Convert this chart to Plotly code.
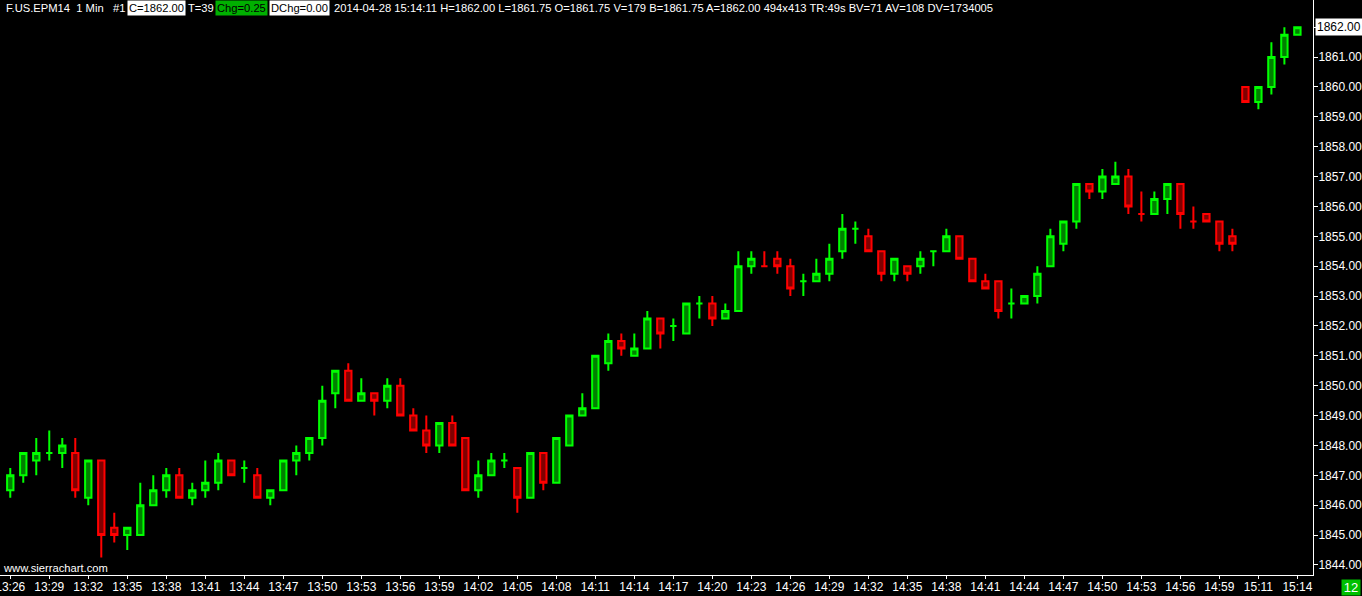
import plotly.graph_objects as go

# one-minute bars, F.US.EPM14, 2014-04-28
opens = [
    1846.5, 1847, 1847.5, 1847.75, 1847.75, 1847.75, 1846.25, 1847.5, 1845.25, 1845,
    1845, 1846, 1846.5, 1847, 1846.25, 1846.5, 1846.75, 1847.5, 1847.25, 1847,
    1846.25, 1846.5, 1847.5, 1847.75, 1848.25, 1849.75, 1850.5, 1849.5, 1849.75, 1849.5,
    1850, 1849, 1848.5, 1848, 1848.75, 1848.25, 1846.5, 1847, 1847.5, 1847.25,
    1846.25, 1847.75, 1846.75, 1848, 1849, 1849.25, 1850.75, 1851.5, 1851, 1851.25,
    1852.25, 1852, 1851.75, 1852.75, 1852.75, 1852.25, 1852.5, 1854, 1854, 1854.25,
    1854, 1853.5, 1853.5, 1853.75, 1854.5, 1855.25, 1855, 1854.5, 1853.75, 1854,
    1854, 1854.5, 1854.5, 1855, 1854.25, 1853.5, 1853.5, 1852.75, 1852.75, 1853,
    1854, 1854.75, 1855.5, 1856.75, 1856.5, 1856.75, 1857, 1855.75, 1855.75, 1856.25,
    1856.75, 1855.5, 1855.75, 1855.5, 1855, 1860, 1859.5, 1860, 1861, 1861.75,
]
highs = [
    1847.25, 1847.75, 1848.25, 1848.5, 1848.25, 1848.25, 1847.5, 1847.5, 1845.75, 1845.25,
    1846.75, 1847, 1847.25, 1847.25, 1846.75, 1847.5, 1847.75, 1847.5, 1847.5, 1847.25,
    1846.5, 1847.5, 1848, 1848.25, 1850, 1850.5, 1850.75, 1850.25, 1849.75, 1850.25,
    1850.25, 1849.25, 1849, 1848.75, 1849, 1848.25, 1847.5, 1847.75, 1847.75, 1847.25,
    1847.75, 1847.75, 1848.25, 1849, 1849.75, 1851, 1851.75, 1851.75, 1851.75, 1852.5,
    1852.25, 1852.25, 1852.75, 1853, 1853, 1852.75, 1854.5, 1854.5, 1854.5, 1854.5,
    1854.25, 1853.75, 1854.25, 1854.75, 1855.75, 1855.5, 1855.25, 1854.5, 1854.25, 1854,
    1854.5, 1854.5, 1855.25, 1855, 1854.25, 1853.75, 1853.5, 1853.25, 1853, 1854,
    1855.25, 1855.5, 1856.75, 1856.75, 1857.25, 1857.5, 1857.25, 1856.5, 1856.5, 1856.75,
    1856.75, 1856, 1855.75, 1855.5, 1855.25, 1860, 1860, 1861.5, 1862, 1862,
]
lows = [
    1846.25, 1846.75, 1847, 1847.5, 1847.25, 1846.25, 1846, 1844.25, 1844.75, 1844.5,
    1845, 1846, 1846.25, 1846.25, 1846, 1846.25, 1846.5, 1847, 1846.75, 1846.25,
    1846, 1846.5, 1847, 1847.5, 1848, 1849.25, 1849.5, 1849.5, 1849, 1849.25,
    1849, 1848.5, 1847.75, 1847.75, 1848, 1846.5, 1846.25, 1847, 1847.25, 1845.75,
    1846.25, 1846.5, 1846.75, 1848, 1849, 1849.25, 1850.5, 1851, 1851, 1851.25,
    1851.25, 1851.5, 1851.75, 1852.25, 1852, 1852.25, 1852.5, 1853.75, 1854, 1853.75,
    1853, 1853, 1853.5, 1853.5, 1854.25, 1854.75, 1854.5, 1853.5, 1853.5, 1853.5,
    1853.75, 1854, 1854.5, 1854.25, 1853.5, 1853.25, 1852.25, 1852.25, 1852.75, 1852.75,
    1854, 1854.5, 1855.25, 1856.25, 1856.25, 1856.75, 1855.75, 1855.5, 1855.75, 1855.75,
    1855.25, 1855.25, 1855.5, 1854.5, 1854.5, 1859.5, 1859.25, 1859.75, 1860.75, 1861.75,
]
closes = [
    1847, 1847.75, 1847.75, 1847.75, 1848, 1846.5, 1847.5, 1845, 1845, 1845.25,
    1846, 1846.5, 1847, 1846.25, 1846.5, 1846.75, 1847.5, 1847, 1847.25, 1846.25,
    1846.5, 1847.5, 1847.75, 1848.25, 1849.5, 1850.5, 1849.5, 1849.75, 1849.5, 1850,
    1849, 1848.5, 1848, 1848.75, 1848, 1846.5, 1847, 1847.5, 1847.5, 1846.25,
    1847.75, 1846.75, 1848.25, 1849, 1849.25, 1851, 1851.5, 1851.25, 1851.25, 1852.25,
    1851.75, 1852, 1852.75, 1852.75, 1852.25, 1852.5, 1854, 1854.25, 1854, 1854,
    1853.25, 1853.5, 1853.75, 1854.25, 1855.25, 1855.25, 1854.5, 1853.75, 1854.25, 1853.75,
    1854.25, 1854.5, 1855, 1854.25, 1853.5, 1853.25, 1852.5, 1852.75, 1853, 1853.75,
    1855, 1855.5, 1856.75, 1856.5, 1857, 1857, 1856, 1855.75, 1856.25, 1856.75,
    1855.75, 1855.5, 1855.5, 1854.75, 1854.75, 1859.5, 1860, 1861, 1861.75, 1862,
]
tick_labels = [
    "13:26", "13:29", "13:32", "13:35", "13:38", "13:41", "13:44", "13:47", "13:50",
    "13:53", "13:56", "13:59", "14:02", "14:05", "14:08", "14:11", "14:14", "14:17",
    "14:20", "14:23", "14:26", "14:29", "14:32", "14:35", "14:38", "14:41", "14:44",
    "14:47", "14:50", "14:53", "14:56", "14:59", "15:11", "15:14",
]
price_ticks = list(range(1844, 1863))

UP_FILL, UP_LINE = "#008000", "#00ff00"
DN_FILL, DN_LINE = "#800000", "#ff0000"
AXIS_FONT = "Liberation Sans Narrow, Liberation Sans, Arial, sans-serif"
HEAD_FONT = "Liberation Sans, Arial, sans-serif"

# bar colour: close vs open, doji vs previous close, else keep previous colour
up = []
for i, (o, c) in enumerate(zip(opens, closes)):
    if c != o:
        up.append(c > o)
    elif i > 0 and c != closes[i - 1]:
        up.append(c > closes[i - 1])
    else:
        up.append(up[-1] if up else True)


def candle_trace(flag, fill, line):
    idx = [i for i, u in enumerate(up) if u == flag]
    style = dict(fillcolor=fill, line=dict(color=line, width=2))
    return go.Candlestick(
        x=idx,
        open=[opens[i] for i in idx],
        high=[highs[i] for i in idx],
        low=[lows[i] for i in idx],
        close=[closes[i] for i in idx],
        increasing=style,
        decreasing=style,
        whiskerwidth=0,
        showlegend=False,
        hoverinfo="skip",
    )


PLOT_W, PLOT_H = 1313, 575


def px(x):
    return x / PLOT_W


def py(y):
    return 1 - y / PLOT_H


def label(text, x, y, color="white", bg=None, size=11.2, xanchor="left", family=HEAD_FONT):
    return dict(
        text=text, x=px(x), y=py(y), xref="paper", yref="paper",
        xanchor=xanchor, yanchor="middle", showarrow=False,
        font=dict(family=family, size=size, color=color),
        bgcolor=bg, borderpad=1,
    )


annotations = [
    label("F.US.EPM14&nbsp;&nbsp;1 Min&nbsp;&nbsp;&nbsp;#1", 4, 8),
    label("C=1862.00", 127, 8, color="black", bg="white"),
    label("T=39", 186, 8),
    label("Chg=0.25", 215, 8, color="black", bg="#00b000"),
    label("DChg=0.00", 269, 8, color="black", bg="white"),
    label("2014-04-28 15:14:11 H=1862.00 L=1861.75 O=1861.75 V=179 B=1861.75 "
          "A=1862.00 494x413 TR:49s BV=71 AV=108 DV=1734005", 332, 8),
    label("www.sierrachart.com", 1, 568),
    dict(
        text="12", x=px(1351), y=py(587.5), xref="paper", yref="paper",
        xanchor="center", yanchor="middle", showarrow=False, width=18, height=15,
        font=dict(family=AXIS_FONT, size=13, color="white"),
        bgcolor="#00c000", borderpad=0,
    ),
    dict(
        text="1862.00", x=px(1315), y=closes[-1], xref="paper", yref="y",
        xanchor="left", yanchor="middle", showarrow=False,
        font=dict(family=AXIS_FONT, size=12, color="black"),
        bgcolor="white", borderpad=1,
    ),
]

fig = go.Figure(
    data=[candle_trace(True, UP_FILL, UP_LINE), candle_trace(False, DN_FILL, DN_LINE)],
    layout=go.Layout(
        width=1362,
        height=596,
        paper_bgcolor="black",
        plot_bgcolor="black",
        margin=dict(l=0, r=49, t=0, b=21, autoexpand=False),
        showlegend=False,
        font=dict(family=AXIS_FONT, size=12, color="white"),
        xaxis=dict(
            range=[-0.79, 100.2],
            tickvals=list(range(0, len(opens), 3)),
            ticktext=tick_labels,
            ticks="outside",
            ticklen=3,
            tickcolor="white",
            ticklabeloverflow="allow",
            ticklabelstandoff=-2,
            automargin=False,
            showgrid=False,
            zeroline=False,
            showline=True,
            linecolor="white",
            linewidth=1,
            rangeslider=dict(visible=False),
            tickfont=dict(family=AXIS_FONT, size=12, color="white"),
        ),
        yaxis=dict(
            side="right",
            range=[1843.665, 1862.91],
            tickvals=price_ticks,
            ticktext=["%.2f" % v for v in price_ticks],
            ticks="outside",
            ticklen=4,
            tickcolor="white",
            ticklabeloverflow="allow",
            ticklabelstandoff=-2,
            automargin=False,
            showgrid=False,
            zeroline=False,
            showline=True,
            linecolor="white",
            linewidth=1,
            tickfont=dict(family=AXIS_FONT, size=12, color="white"),
        ),
        annotations=annotations,
    ),
)

fig.write_html(
    "out.html",
    config={"displayModeBar": False},
    post_script="document.body.style.margin='0';document.body.style.background='black';",
)
